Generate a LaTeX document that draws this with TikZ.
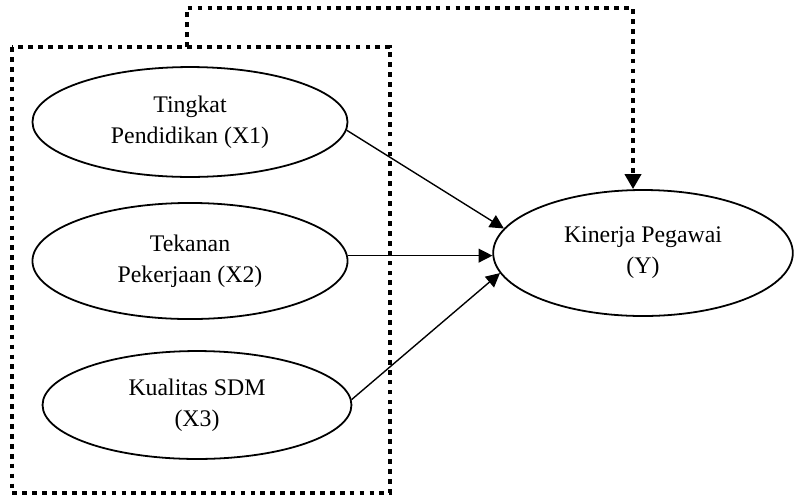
\documentclass[tikz,border=0pt]{standalone}
\usepackage{fontspec}
\setmainfont{Liberation Serif}
\usetikzlibrary{arrows.meta,shapes.geometric}

\begin{document}
\begin{tikzpicture}[x=0.504pt, y=-0.504pt,
  every node/.style={font=\fontsize{12}{15.5}\selectfont, align=center, inner sep=0pt},
  var/.style={ellipse, draw, line width=0.9pt},
  arr/.style={line width=0.7pt, -{Triangle[length=7pt,width=7pt]}},
  dots/.style={line width=2pt, dash pattern=on 2.4pt off 2.6pt}]
\useasboundingbox (0,0) rectangle (794,500);

\node[var, minimum width=158.8pt, minimum height=55.4pt] (x1) at (190,122) {Tingkat\\Pendidikan (X1)};
\node[var, minimum width=158.8pt, minimum height=58.5pt] (x2) at (190,261) {Tekanan\\Pekerjaan (X2)};
\node[var, minimum width=155.7pt, minimum height=54.4pt] (x3) at (197,405) {Kualitas SDM\\(X3)};
\node[var, minimum width=151pt, minimum height=63.5pt] (kin) at (643,253) {Kinerja Pegawai\\(Y)};

\draw[arr] (x1.-3) -- (kin.170);
\draw[arr] (x2.east |- kin.181) -- (kin.181);
\draw[arr] (x3.2) -- (kin.188);

\draw[dots] (12,47) rectangle (390,493);
\coordinate (g) at (187,47);
\coordinate (top) at (633,8);
\draw[dots, -{Triangle[length=7.5pt,width=8pt]}] (g) -- (g |- top) -- (top) -- (top |- kin.north);
\end{tikzpicture}
\end{document}
